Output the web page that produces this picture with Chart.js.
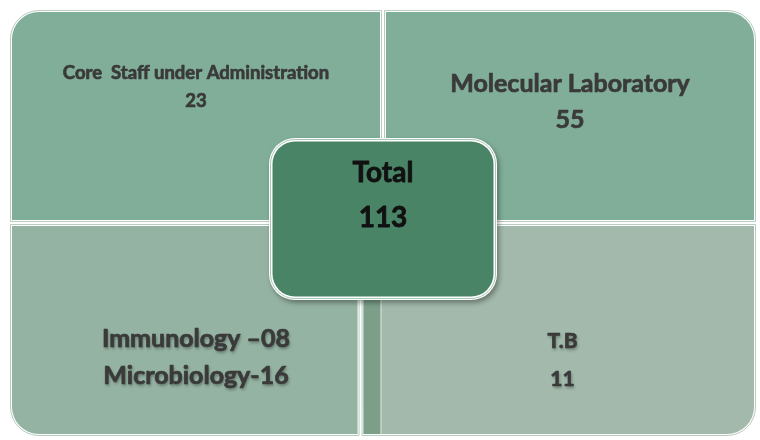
<!DOCTYPE html>
<html>
<head>
<meta charset="utf-8">
<title>Staff matrix</title>
<script src="https://cdn.jsdelivr.net/npm/chart.js@4.4.0/dist/chart.umd.min.js"></script>
<style>
  html, body { margin: 0; padding: 0; background: #ffffff; }
  #wrap { width: 760px; height: 440px; }
</style>
</head>
<body>
<div id="wrap"><canvas id="matrix"></canvas></div>
<script>
// values
var categories = ["Core  Staff under Administration", "Molecular Laboratory", "Immunology", "Microbiology", "T.B"];
var staffCounts = [23, 55, 8, 16, 11];
var totalLabel = "Total";
var totalCount = 113;

// 2x2 matrix layout: rows top/bottom, left + right cell stacked in each row
var rows = ["top", "bottom"];
var leftWeights = [1, 0.94];
var rightWeights = [1, 1.06];

var topColor = "#80ae98";
var bottomLeftColor = "#95b3a2";
var bottomRightColor = "#a2b9ab";
var stripColor = "#7b9f89";
var centerColor = "#4a8466";
var gapColor = "#b7cbc0";
var textColor = "#3a3a3a";

function pad2(n) { return n < 10 ? "0" + n : String(n); }

// text blocks per cell (col = value on the x scale, dy = line centres)
var cellText = [
    { lines: [categories[0], String(staffCounts[0])], col: 0.5, row: 0, dy: [73, 101], size: 18.5, shadow: false },
    { lines: [categories[1], String(staffCounts[1])], col: 1.5, row: 0, dy: [84, 120], size: 25, shadow: false },
    { lines: [categories[2] + " \u2013" + pad2(staffCounts[2]), categories[3] + "-" + staffCounts[3]], col: 0.5, row: 1, dy: [339, 376], size: 25, shadow: true },
    { lines: [categories[4], String(staffCounts[4])], col: 1.48, row: 1, dy: [341, 379], size: 21, shadow: true }
];

function cornerRadius(di, i) {
    var r = { topLeft: 0, topRight: 0, bottomLeft: 0, bottomRight: 0 };
    if (di == 0 && i == 0) r.topLeft = 30;
    if (di == 1 && i == 0) r.topRight = 30;
    if (di == 0 && i == 1) r.bottomLeft = 30;
    if (di == 1 && i == 1) r.bottomRight = 30;
    return r;
}

// bold text with a thin stroke so it looks as heavy as the original
function heavyText(ctx, txt, x, y, color, weight) {
    ctx.fillStyle = color;
    ctx.fillText(txt, x, y);
    ctx.shadowColor = "transparent";
    ctx.strokeStyle = color;
    ctx.lineWidth = weight;
    ctx.lineJoin = "round";
    ctx.strokeText(txt, x, y);
}

var decor = {
    id: "decor",
    afterDatasetsDraw: function(chart) {
        var ctx = chart.ctx;
        var xs = chart.scales.x;

        // darker band on the left of the bottom-right cell
        var br = chart.getDatasetMeta(1).data[1].getProps(["x", "y", "base", "height"], true);
        var bt = br.y - br.height / 2, bb = br.y + br.height / 2;
        ctx.save();
        ctx.fillStyle = stripColor;
        ctx.fillRect(br.base + 3, bt + 3, 17, bb - bt - 6);
        ctx.fillStyle = "rgba(225,235,230,0.9)";
        ctx.fillRect(br.base + 20, bt + 3, 1, bb - bt - 6);
        ctx.restore();

        // thin line inside the white borders (double border look)
        chart.data.datasets.forEach(function(ds, di) {
            chart.getDatasetMeta(di).data.forEach(function(bar, i) {
                var q = bar.getProps(["x", "y", "base", "height"], true);
                var l = Math.min(q.x, q.base), rr = Math.max(q.x, q.base);
                var t = q.y - q.height / 2, b = q.y + q.height / 2;
                var c = cornerRadius(di, i);
                ctx.save();
                ctx.beginPath();
                ctx.roundRect(l + 1.5, t + 1.5, rr - l - 3, b - t - 3,
                    [Math.max(0, c.topLeft - 1.5), Math.max(0, c.topRight - 1.5), Math.max(0, c.bottomRight - 1.5), Math.max(0, c.bottomLeft - 1.5)]);
                ctx.strokeStyle = gapColor;
                ctx.lineWidth = 1;
                ctx.stroke();
                ctx.restore();
            });
        });

        // cell texts
        cellText.forEach(function(cell) {
            var cx = xs.getPixelForValue(cell.col);
            cell.lines.forEach(function(line, k) {
                ctx.save();
                ctx.font = "bold " + cell.size + "px Lato";
                ctx.textAlign = "center";
                ctx.textBaseline = "middle";
                if (cell.shadow) {
                    ctx.shadowColor = "rgba(0,0,0,0.35)";
                    ctx.shadowOffsetX = 1;
                    ctx.shadowOffsetY = 2;
                    ctx.shadowBlur = 3;
                }
                heavyText(ctx, line, cx, cell.dy[k], textColor, 0.7);
                ctx.restore();
            });
        });

        // center "Total" box
        var area = chart.chartArea;
        var mx = xs.getPixelForValue(1);
        var my = (area.top + area.bottom) / 2 - 4;
        var w = 228, h = 162;
        var bx = mx - w / 2, by = my - h / 2;
        ctx.save();
        ctx.shadowColor = "rgba(0,0,0,0.35)";
        ctx.shadowOffsetX = 2;
        ctx.shadowOffsetY = 3;
        ctx.shadowBlur = 5;
        ctx.beginPath();
        ctx.roundRect(bx, by, w, h, 26);
        ctx.fillStyle = "#ffffff";
        ctx.fill();
        ctx.restore();

        ctx.save();
        ctx.beginPath();
        ctx.roundRect(bx + 1.5, by + 1.5, w - 3, h - 3, 24.5);
        ctx.strokeStyle = "#a9c7b7";
        ctx.lineWidth = 1;
        ctx.stroke();
        ctx.beginPath();
        ctx.roundRect(bx + 3.5, by + 3.5, w - 7, h - 7, 22.5);
        ctx.fillStyle = centerColor;
        ctx.fill();

        ctx.font = "bold 28px Lato";
        ctx.textAlign = "center";
        ctx.textBaseline = "middle";
        heavyText(ctx, totalLabel, mx, my - 46, "#111111", 0.8);
        heavyText(ctx, String(totalCount), mx, my - 1, "#111111", 0.8);
        ctx.restore();
    }
};

var chart = new Chart(document.getElementById("matrix").getContext("2d"), {
    type: "bar",
    data: {
        labels: rows,
        datasets: [{
            label: "left",
            data: leftWeights,
            backgroundColor: [topColor, bottomLeftColor]
        }, {
            label: "right",
            data: rightWeights,
            backgroundColor: [topColor, bottomRightColor]
        }]
    },
    options: {
        indexAxis: "y",
        responsive: true,
        maintainAspectRatio: false,
        animation: false,
        layout: { padding: { left: 9, right: 3, top: 9, bottom: 3 } },
        datasets: {
            bar: {
                barPercentage: 1,
                categoryPercentage: 1,
                borderColor: "#ffffff",
                borderWidth: 3,
                borderSkipped: false,
                inflateAmount: 0,
                borderRadius: function(c) { return cornerRadius(c.datasetIndex, c.dataIndex); }
            }
        },
        scales: {
            x: { stacked: true, min: 0, max: 2, display: false },
            y: { stacked: true, display: false }
        },
        plugins: {
            legend: { display: false },
            tooltip: { enabled: false }
        }
    },
    plugins: [decor]
});
</script>
</body>
</html>
